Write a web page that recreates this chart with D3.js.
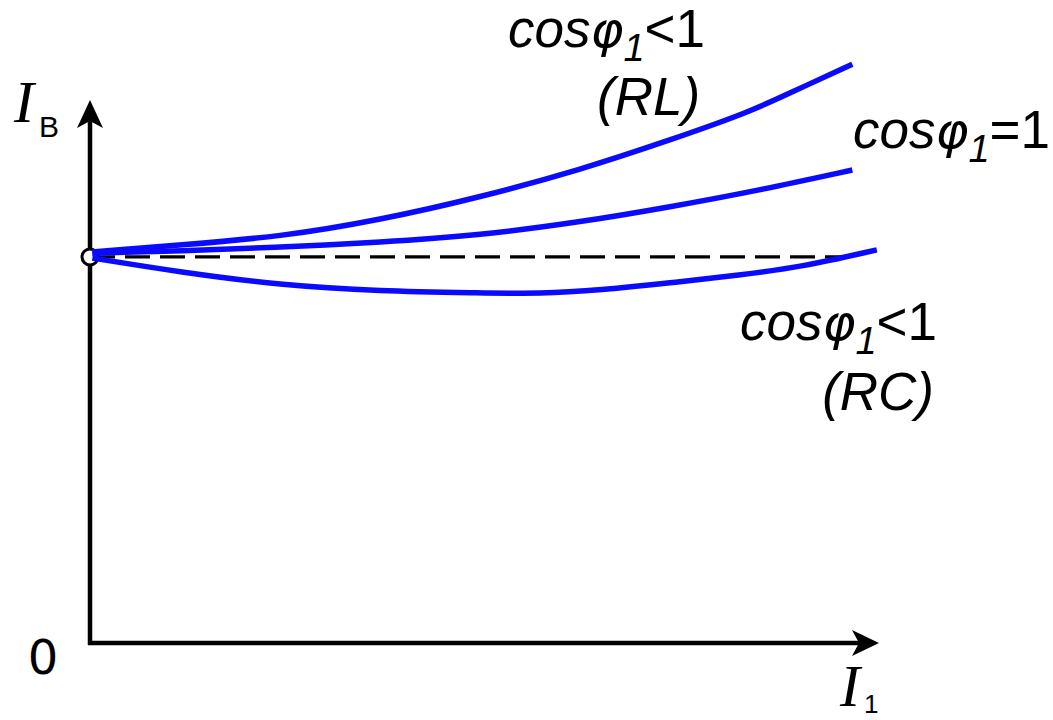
<!DOCTYPE html>
<html>
<head>
<meta charset="utf-8">
<script src="https://cdn.jsdelivr.net/npm/d3@7.8.5/dist/d3.min.js"></script>
<style>
  html, body { margin: 0; padding: 0; background: #fff; }
  svg { display: block; }
</style>
</head>
<body>
<svg width="1053" height="720"></svg>
<script>
// curve values (I1 on x, IB on y, arbitrary units)
const rlX = [0.03, 1.14, 2.41, 3.67, 4.94, 6.20, 7.34, 8.35, 8.86, 9.65];
const rlY = [7.20, 7.33, 7.48, 7.79, 8.21, 8.71, 9.26, 9.78, 10.13, 10.66];

const unityX = [0.03, 1.14, 2.41, 3.67, 4.94, 6.20, 7.34, 8.48, 9.65];
const unityY = [7.18, 7.22, 7.29, 7.38, 7.51, 7.75, 8.03, 8.34, 8.71];

const rcX = [0.03, 1.14, 2.41, 3.67, 4.94, 5.70, 6.46, 7.34, 8.23, 8.99, 9.96];
const rcY = [7.09, 6.83, 6.59, 6.48, 6.45, 6.43, 6.50, 6.63, 6.78, 6.92, 7.24];

const noLoadY = 7.11;     // IB at I1 = 0
const dashEndX = 9.6;

const svg = d3.select("svg");

const x = d3.scaleLinear().domain([0, 10]).range([90, 880]);
const y = d3.scaleLinear().domain([0, 10]).range([643, 100]);

const blue = "#0a0aff";

// axes
svg.append("line")
  .attr("x1", x(0)).attr("y1", y(0) + 2)
  .attr("x2", x(0)).attr("y2", 118)
  .attr("stroke", "#000").attr("stroke-width", 4.5);
svg.append("line")
  .attr("x1", x(0) - 2).attr("y1", y(0))
  .attr("x2", 862).attr("y2", y(0))
  .attr("stroke", "#000").attr("stroke-width", 4.5);

// arrow heads
svg.append("path")
  .attr("d", `M${x(0)},100 L${x(0) + 13},128 L${x(0)},121 L${x(0) - 13},128 Z`)
  .attr("fill", "#000");
svg.append("path")
  .attr("d", `M879,${y(0)} L852,${y(0) - 13} L859,${y(0)} L852,${y(0) + 13} Z`)
  .attr("fill", "#000");

// no-load reference level
svg.append("line")
  .attr("x1", x(0)).attr("y1", y(noLoadY))
  .attr("x2", x(dashEndX)).attr("y2", y(noLoadY))
  .attr("stroke", "#000").attr("stroke-width", 3.2)
  .attr("stroke-dasharray", "25 10");

svg.append("circle")
  .attr("cx", x(0)).attr("cy", y(noLoadY)).attr("r", 8)
  .attr("fill", "#fff").attr("stroke", "#000").attr("stroke-width", 3);

const line = d3.line()
  .x(d => x(d[0]))
  .y(d => y(d[1]))
  .curve(d3.curveBasis);

[[rlX, rlY], [unityX, unityY], [rcX, rcY]].forEach(([xs, ys]) => {
  svg.append("path")
    .datum(d3.zip(xs, ys))
    .attr("d", line)
    .attr("fill", "none")
    .attr("stroke", blue)
    .attr("stroke-width", 5.5)
    .attr("stroke-linecap", "butt");
});

// labels
const sans = "'Liberation Sans', Arial, sans-serif";
const serif = "'Liberation Serif', 'Times New Roman', serif";

function cosLabel(x0, base, rel) {
  const t = svg.append("text")
    .attr("x", x0).attr("y", base)
    .attr("font-family", sans).attr("font-size", 53).attr("fill", "#000");
  t.append("tspan").attr("font-style", "italic").text("cos");
  t.append("tspan").attr("font-style", "italic")
    .attr("font-family", "'DejaVu Sans', sans-serif").attr("font-size", 50).text("\u03C6");
  t.append("tspan").attr("font-style", "italic").attr("font-size", 38).attr("dy", 14).text("1");
  t.append("tspan").attr("dy", -14).text(rel + "1");
}

cosLabel(508, 47, "<");
svg.append("text").attr("x", 597).attr("y", 115)
  .attr("font-family", sans).attr("font-size", 53).attr("font-style", "italic")
  .text("(RL)");

cosLabel(853, 148, "=");

cosLabel(740, 340, "<");
svg.append("text").attr("x", 934).attr("y", 410)
  .attr("text-anchor", "end")
  .attr("font-family", sans).attr("font-size", 53).attr("font-style", "italic")
  .text("(RC)");

// axis titles
const yt = svg.append("text").attr("x", 14).attr("y", 122);
yt.append("tspan").attr("font-family", serif).attr("font-style", "italic")
  .attr("font-size", 60).text("I");
yt.append("tspan").attr("font-family", sans).attr("font-size", 30)
  .attr("dy", 15).attr("dx", 5).text("В");

const xt = svg.append("text").attr("x", 840).attr("y", 706);
xt.append("tspan").attr("font-family", serif).attr("font-style", "italic")
  .attr("font-size", 60).text("I");
xt.append("tspan").attr("font-family", sans).attr("font-size", 26)
  .attr("dy", 7).attr("dx", 4).text("1");

svg.append("text").attr("x", 43).attr("y", 674)
  .attr("text-anchor", "middle")
  .attr("font-family", "'DejaVu Sans', sans-serif").attr("font-size", 48)
  .text("0");
</script>
</body>
</html>
